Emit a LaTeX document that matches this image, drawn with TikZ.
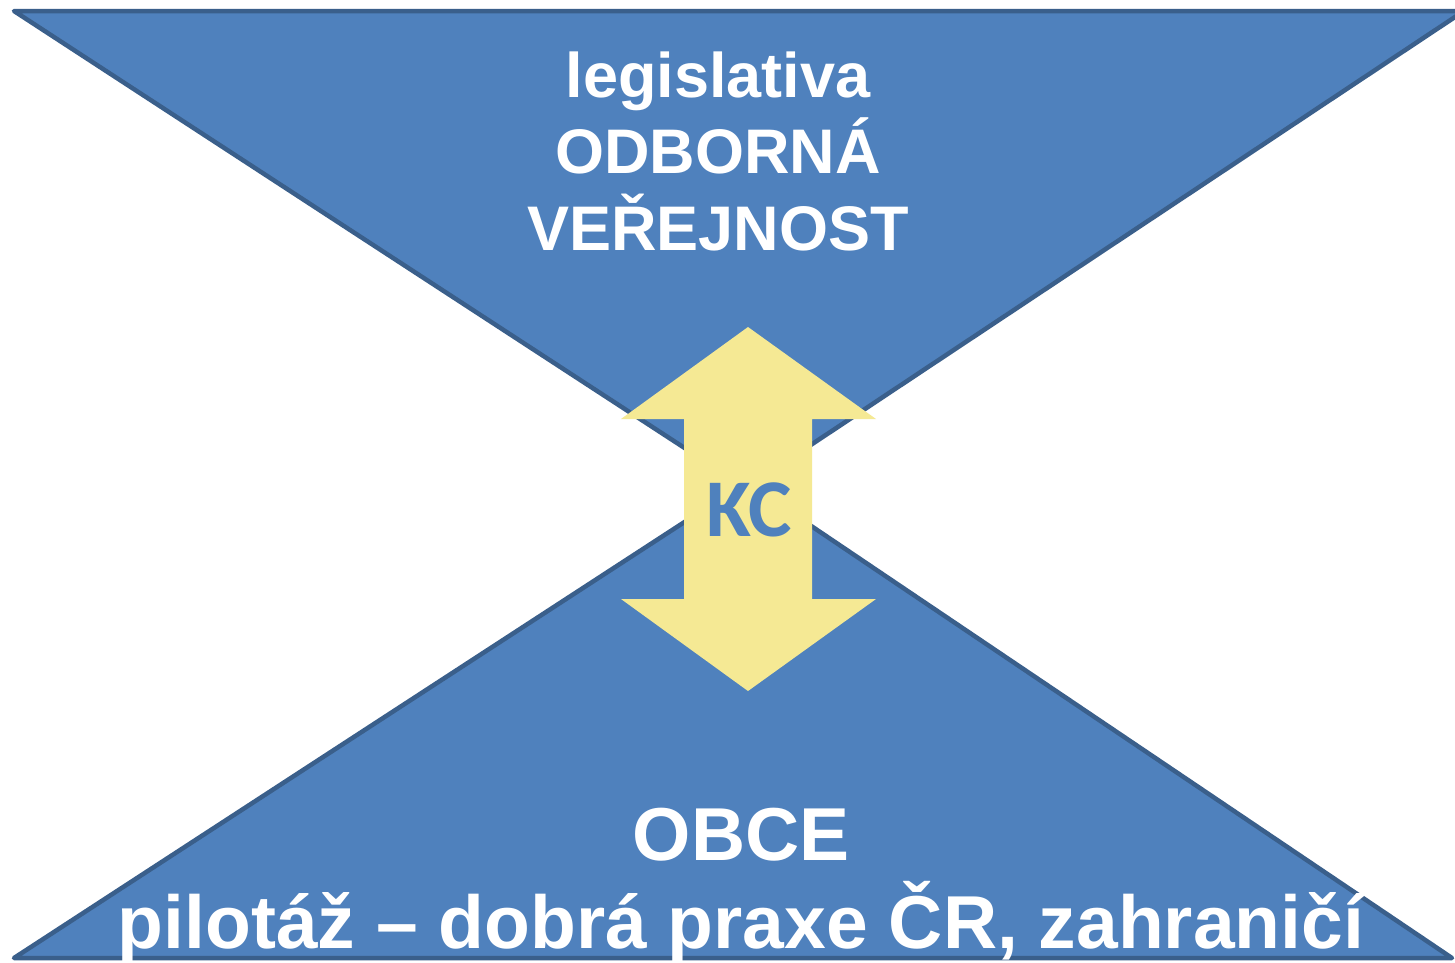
\documentclass[tikz,border=0pt]{standalone}
\usepackage{fontspec}
\setmainfont{Liberation Sans}
\newfontfamily\kcfont{Carlito}
\definecolor{triblue}{HTML}{4F81BD}
\definecolor{triedge}{HTML}{3A5F8B}
\definecolor{arrowyellow}{HTML}{F5E994}
\begin{document}
\begin{tikzpicture}[x=1pt,y=-1pt,
  tri/.style={fill=triblue,draw=triedge,line width=4.5pt,line join=round},
  whitetext/.style={text=white,font=\fontsize{63}{77}\selectfont\bfseries,align=center,inner sep=0pt,anchor=base},
  bigtext/.style={whitetext,font=\fontsize{75}{90}\selectfont\bfseries},
  dblarrow/.style={fill=arrowyellow,draw=none}]
\useasboundingbox (0,0) rectangle (1455,962);
\fill[white] (0,0) rectangle (1455,962);
% top inverted triangle
\draw[tri] (14,11) -- (1464,11) -- (746,488) -- cycle;
% bottom triangle
\draw[tri] (14,958) -- (1452,958) -- (746,482) -- cycle;
% double arrow
\fill[dblarrow] (748,327) -- (876,419) -- (812,419) -- (812,599) -- (876,599)
  -- (748,691) -- (621,599) -- (684,599) -- (684,419) -- (621,419) -- cycle;
\node[text=triblue,font=\kcfont\fontsize{82}{82}\selectfont\bfseries,inner sep=0pt] (kc) at (749,510) {KC};
% texts
\node[whitetext] (l1) at (718,97) {legislativa};
\node[whitetext] (l2) at (718,173) {ODBORNÁ};
\node[whitetext] (l3) at (718,250) {VEŘEJNOST};
\node[bigtext] (b1) at (741,860) {OBCE};
\node[bigtext] (b2) at (741,948) {pilotáž – dobrá praxe ČR, zahraničí};
\end{tikzpicture}
\end{document}
